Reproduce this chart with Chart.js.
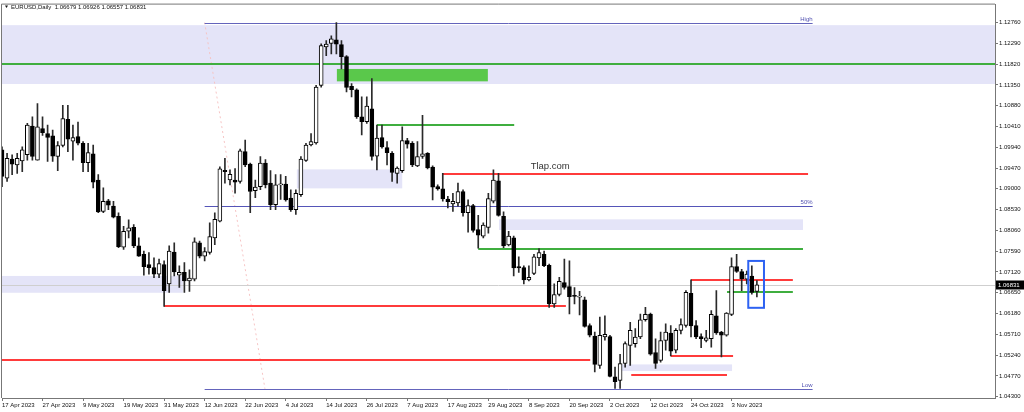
<!DOCTYPE html>
<html>
<head>
<meta charset="utf-8">
<script src="https://cdn.jsdelivr.net/npm/chart.js@4.4.0/dist/chart.umd.min.js"></script>
<style>html,body{margin:0;padding:0;background:#fff}canvas{display:block}</style>
</head>
<body>
<canvas id="chart" width="1024" height="412"></canvas>
<script>
const dateLabels = ["17 Apr 2023", "27 Apr 2023", "9 May 2023", "19 May 2023", "31 May 2023", "12 Jun 2023",
  "22 Jun 2023", "4 Jul 2023", "14 Jul 2023", "26 Jul 2023", "7 Aug 2023", "17 Aug 2023", "29 Aug 2023",
  "8 Sep 2023", "20 Sep 2023", "2 Oct 2023", "12 Oct 2023", "24 Oct 2023", "3 Nov 2023"];
const yTicks = [1.04300, 1.04770, 1.05240, 1.05710, 1.06180, 1.06650, 1.07120, 1.07590, 1.08060, 1.08530,
  1.09000, 1.09470, 1.09940, 1.10410, 1.10880, 1.11350, 1.11820, 1.12290, 1.12760];

// daily candles, 17 Apr 2023 .. 10 Nov 2023
const openPrices = [
  1.0988, 1.0924, 1.0967, 1.0954, 1.0963, 1.0977, 1.1042, 1.0965, 1.1036, 1.1025,
  1.1020, 1.0973, 1.0998, 1.1057, 1.1008, 1.1018, 1.1003, 1.0959, 1.0979, 1.0920,
  1.0849, 1.0873, 1.0861, 1.0838, 1.0768, 1.0804, 1.0813, 1.0771, 1.0752, 1.0729,
  1.0722, 1.0707, 1.0729, 1.0685, 1.0757, 1.0705, 1.0711, 1.0692, 1.0696, 1.0778,
  1.0748, 1.0756, 1.0789, 1.0827, 1.0942, 1.0920, 1.0920, 1.0917, 1.0984, 1.0956,
  1.0896, 1.0905, 1.0958, 1.0913, 1.0864, 1.0909, 1.0911, 1.0879, 1.0853, 1.0887,
  1.0964, 1.0999, 1.1004, 1.1134, 1.1221, 1.1229, 1.1237, 1.1226, 1.1199, 1.1132,
  1.1124, 1.1063, 1.1052, 1.1081, 1.0974, 1.1016, 1.0993, 1.0980, 1.0935, 1.0941,
  1.1009, 1.1003, 1.0952, 1.0973, 1.0980, 1.0949, 1.0905, 1.0900, 1.0877, 1.0866,
  1.0868, 1.0894, 1.0846, 1.0862, 1.0808, 1.0793, 1.0813, 1.0872, 1.0918, 1.0838,
  1.0773, 1.0789, 1.0724, 1.0722, 1.0694, 1.0709, 1.0744, 1.0752, 1.0727, 1.0640,
  1.0661, 1.0688, 1.0679, 1.0658, 1.0655, 1.0649, 1.0591, 1.0567, 1.0501, 1.0565,
  1.0566, 1.0475, 1.0467, 1.0505, 1.0546, 1.0550, 1.0565, 1.0604, 1.0617, 1.0530,
  1.0512, 1.0557, 1.0574, 1.0535, 1.0580, 1.0591, 1.0664, 1.0591, 1.0566, 1.0557,
  1.0561, 1.0613, 1.0576, 1.0569, 1.0616, 1.0724, 1.0713, 1.0696, 1.0703, 1.06679];
const highPrices = [
  1.0995, 1.0980, 1.0977, 1.0980, 1.0995, 1.1048, 1.1063, 1.1093, 1.1063, 1.1044,
  1.1033, 1.1007, 1.1089, 1.1089, 1.1044, 1.1051, 1.1007, 1.1003, 1.0999, 1.0932,
  1.0902, 1.0876, 1.0872, 1.0846, 1.0815, 1.0830, 1.0819, 1.0789, 1.0759, 1.0756,
  1.0744, 1.0741, 1.0737, 1.0771, 1.0778, 1.0726, 1.0733, 1.0717, 1.0789, 1.0782,
  1.0767, 1.0823, 1.0846, 1.0950, 1.0969, 1.0943, 1.0946, 1.0990, 1.1010, 1.0958,
  1.0920, 1.0973, 1.0966, 1.0941, 1.0932, 1.0932, 1.0928, 1.0898, 1.0898, 1.0973,
  1.1003, 1.1025, 1.1134, 1.1228, 1.1235, 1.1246, 1.1276, 1.1235, 1.1201, 1.1138,
  1.1126, 1.1108, 1.1108, 1.1149, 1.1044, 1.1044, 1.1007, 1.0984, 1.0950, 1.1040,
  1.1014, 1.1007, 1.1007, 1.1066, 1.0982, 1.0952, 1.0909, 1.0935, 1.0883, 1.0890,
  1.0913, 1.0898, 1.0875, 1.0865, 1.0840, 1.0823, 1.0890, 1.0943, 1.0935, 1.0848,
  1.0804, 1.0793, 1.0746, 1.0726, 1.0726, 1.0752, 1.0765, 1.0759, 1.0730, 1.0685,
  1.0700, 1.0741, 1.0737, 1.0677, 1.0668, 1.0655, 1.0595, 1.0576, 1.0610, 1.0613,
  1.0569, 1.0497, 1.0526, 1.0554, 1.0598, 1.0584, 1.0617, 1.0632, 1.0619, 1.0561,
  1.0576, 1.0595, 1.0591, 1.0584, 1.0606, 1.0670, 1.0694, 1.0602, 1.0572, 1.0580,
  1.0625, 1.0670, 1.0578, 1.0620, 1.0744, 1.0752, 1.0718, 1.0714, 1.0726, 1.06926];
const lowPrices = [
  1.0905, 1.0917, 1.0932, 1.0935, 1.0939, 1.0965, 1.0965, 1.0965, 1.1021, 1.0962,
  1.0962, 1.0941, 1.0995, 1.0984, 1.0965, 1.0999, 1.0939, 1.0939, 1.0902, 1.0846,
  1.0846, 1.0853, 1.0834, 1.0767, 1.0763, 1.0789, 1.0767, 1.0747, 1.0705, 1.0707,
  1.0699, 1.0699, 1.0634, 1.0666, 1.0703, 1.0677, 1.0666, 1.0668, 1.0692, 1.0744,
  1.0737, 1.0752, 1.0774, 1.0825, 1.0913, 1.0909, 1.0890, 1.0913, 1.0950, 1.0846,
  1.0880, 1.0898, 1.0902, 1.0853, 1.0853, 1.0876, 1.0872, 1.0849, 1.0842, 1.0883,
  1.0962, 1.0997, 1.1001, 1.1130, 1.1201, 1.1205, 1.1205, 1.1171, 1.1119, 1.1108,
  1.1059, 1.1022, 1.1048, 1.0965, 1.0943, 1.0992, 1.0954, 1.0917, 1.0913, 1.0937,
  1.0992, 1.0950, 1.0950, 1.0969, 1.0945, 1.0875, 1.0897, 1.0872, 1.0857, 1.0849,
  1.0861, 1.0838, 1.0802, 1.0802, 1.0766, 1.0789, 1.0800, 1.0868, 1.0838, 1.0767,
  1.0771, 1.0703, 1.0711, 1.0685, 1.0692, 1.0706, 1.0726, 1.0724, 1.0632, 1.0632,
  1.0658, 1.0673, 1.0617, 1.0640, 1.0615, 1.0587, 1.0565, 1.0486, 1.0494, 1.0558,
  1.0475, 1.0449, 1.0449, 1.0497, 1.0501, 1.0542, 1.0561, 1.0601, 1.0524, 1.0494,
  1.0508, 1.0535, 1.0522, 1.0529, 1.0572, 1.0587, 1.0565, 1.0561, 1.0541, 1.0554,
  1.0542, 1.0571, 1.0520, 1.0567, 1.0613, 1.0711, 1.0670, 1.0685, 1.0662, 1.06557];
const closePrices = [
  1.0928, 1.0969, 1.0956, 1.0969, 1.0988, 1.1044, 1.0973, 1.1040, 1.1027, 1.1016,
  1.0974, 1.0998, 1.1059, 1.1012, 1.1016, 1.1003, 1.0959, 1.0982, 1.0915, 1.0848,
  1.0872, 1.0863, 1.0836, 1.0769, 1.0804, 1.0812, 1.0771, 1.0748, 1.0724, 1.0722,
  1.0707, 1.0731, 1.0670, 1.0759, 1.0712, 1.0711, 1.0692, 1.0698, 1.0780, 1.0748,
  1.0758, 1.0792, 1.0831, 1.0945, 1.0939, 1.0933, 1.0915, 1.0986, 1.0954, 1.0894,
  1.0904, 1.0958, 1.0909, 1.0864, 1.0909, 1.0911, 1.0875, 1.0853, 1.0890, 1.0967,
  1.0999, 1.1007, 1.1130, 1.1224, 1.1227, 1.1239, 1.1227, 1.1199, 1.1129, 1.1124,
  1.1063, 1.1052, 1.1087, 1.0973, 1.1015, 1.0995, 1.0982, 1.0937, 1.0947, 1.1009,
  1.1001, 1.0954, 1.0973, 1.0979, 1.0947, 1.0904, 1.0900, 1.0877, 1.0871, 1.0872,
  1.0894, 1.0846, 1.0862, 1.0806, 1.0795, 1.0818, 1.0878, 1.0920, 1.0840, 1.0771,
  1.0793, 1.0721, 1.0721, 1.0694, 1.0700, 1.0746, 1.0756, 1.0726, 1.0640, 1.0661,
  1.0691, 1.0677, 1.0656, 1.0657, 1.0657, 1.0589, 1.0569, 1.0503, 1.0569, 1.0571,
  1.0476, 1.0464, 1.0505, 1.0550, 1.0580, 1.0565, 1.0604, 1.0616, 1.0526, 1.0505,
  1.0557, 1.0576, 1.0533, 1.0580, 1.0593, 1.0666, 1.0590, 1.0565, 1.0561, 1.0563,
  1.0616, 1.0574, 1.0569, 1.0619, 1.0724, 1.0713, 1.0697, 1.0707, 1.0666, 1.06831];

// drawn objects: bar index range + price range
const zones = [
  {from: -2, to: 200, top: 1.1270, bottom: 1.1137, color: "#e4e4f8"},
  {from: -2, to: 35.7, top: 1.0703, bottom: 1.0665, color: "#e4e4f8"},
  {from: 58.2, to: 79.0, top: 1.0944, bottom: 1.0901, color: "#e4e4f8"},
  {from: 98.1, to: 158.1, top: 1.0831, bottom: 1.0807, color: "#e4e4f8"},
  {from: 122, to: 144.1, top: 1.0503, bottom: 1.0488, color: "#e4e4f8"},
  {from: 66.1, to: 95.9, top: 1.1171, bottom: 1.1143, color: "#5ac84b"}
];
const levels = [
  {from: -2, to: 200, price: 1.06831, color: "#cfcfcf", width: 1},
  {from: -2, to: 200, price: 1.1182, color: "#3fae3f", width: 2},
  {from: 40, to: 160, price: 1.1276, color: "#6464bc", width: 1},
  {from: 40, to: 160, price: 1.0862, color: "#5555b8", width: 1},
  {from: 40, to: 160, price: 1.0448, color: "#6464bc", width: 1},
  {from: 74, to: 101.1, price: 1.1045, color: "#3fae3f", width: 2},
  {from: 87, to: 159.1, price: 1.0934, color: "#ff3b3b", width: 2},
  {from: 94, to: 158.1, price: 1.0765, color: "#3fae3f", width: 2},
  {from: 32, to: 111.3, price: 1.0634, color: "#ff3b3b", width: 2},
  {from: -2, to: 116.1, price: 1.0512, color: "#ff3b3b", width: 2},
  {from: 136, to: 156.1, price: 1.0694, color: "#ff3b3b", width: 2},
  {from: 143.1, to: 156.1, price: 1.0667, color: "#3fae3f", width: 2},
  {from: 132, to: 144.3, price: 1.0522, color: "#ff3b3b", width: 2},
  {from: 124.2, to: 143.1, price: 1.0480, color: "#ff3b3b", width: 2}
];
const fibTags = [["High", 1.1276], ["50%", 1.0862], ["Low", 1.0448]];

const categories = Array.from({length: 197}, (_, i) => i);
const tickIdx = dateLabels.map((_, k) => k * 8);

const mtObjects = {
  id: "mtObjects",
  beforeDatasetsDraw(chart) {
    const {ctx, chartArea: a, scales: {x, y}} = chart;
    ctx.save();
    ctx.beginPath();
    ctx.rect(a.left, a.top, a.right - a.left, a.bottom - a.top);
    ctx.clip();
    zones.forEach(z => {
      const x0 = x.getPixelForValue(z.from), x1 = x.getPixelForValue(z.to);
      const y0 = y.getPixelForValue(z.top), y1 = y.getPixelForValue(z.bottom);
      ctx.fillStyle = z.color;
      ctx.fillRect(x0, y0, x1 - x0, y1 - y0);
    });
    // fibo trend line
    ctx.strokeStyle = "#f6c4c4";
    ctx.lineWidth = 1;
    ctx.setLineDash([2, 3]);
    ctx.beginPath();
    ctx.moveTo(x.getPixelForValue(40), y.getPixelForValue(1.1276));
    ctx.lineTo(x.getPixelForValue(51.9), y.getPixelForValue(1.0448));
    ctx.stroke();
    ctx.setLineDash([]);
    levels.forEach(l => {
      const py = Math.round(y.getPixelForValue(l.price)) + (l.width === 1 ? 0.5 : 0);
      ctx.strokeStyle = l.color;
      ctx.lineWidth = l.width;
      ctx.beginPath();
      ctx.moveTo(x.getPixelForValue(l.from), py);
      ctx.lineTo(x.getPixelForValue(l.to), py);
      ctx.stroke();
    });
    ctx.restore();
  },
  afterDraw(chart) {
    const {ctx, chartArea: a, scales: {x, y}} = chart;
    ctx.save();
    // frame
    ctx.strokeStyle = "#777";
    ctx.lineWidth = 1;
    ctx.beginPath();
    ctx.moveTo(a.left - 0.5, a.bottom);
    ctx.lineTo(a.left - 0.5, a.top - 0.5);
    ctx.lineTo(a.right, a.top - 0.5);
    ctx.stroke();
    // selection box
    ctx.strokeStyle = "#2d62f2";
    ctx.lineWidth = 2;
    const bx0 = x.getPixelForValue(147.3), bx1 = x.getPixelForValue(150.4);
    const by0 = y.getPixelForValue(1.0737), by1 = y.getPixelForValue(1.0631);
    ctx.strokeRect(bx0, by0, bx1 - bx0, by1 - by0);
    // fibo tags
    ctx.font = "6px 'Liberation Sans'";
    ctx.fillStyle = "#5050b0";
    ctx.textAlign = "right";
    ctx.textBaseline = "bottom";
    fibTags.forEach(([t, p]) => ctx.fillText(t, x.getPixelForValue(160), y.getPixelForValue(p) - 0.5));
    // watermark
    ctx.font = "9.5px 'Liberation Sans'";
    ctx.fillStyle = "#333";
    ctx.textAlign = "center";
    ctx.textBaseline = "middle";
    ctx.fillText("Tlap.com", x.getPixelForValue(108.2), y.getPixelForValue(1.0950));
    // title
    ctx.font = "6px 'Liberation Sans'";
    ctx.fillStyle = "#111";
    ctx.textAlign = "left";
    ctx.fillText("EURUSD,Daily  1.06679 1.06926 1.06557 1.06831", 11, 7);
    ctx.beginPath();
    ctx.moveTo(5, 5.5); ctx.lineTo(8, 5.5); ctx.lineTo(6.5, 8);
    ctx.closePath();
    ctx.fill();
    // current price tag
    const last = closePrices[closePrices.length - 1];
    const py = Math.round(y.getPixelForValue(last));
    ctx.fillStyle = "#000";
    ctx.fillRect(a.right + 1, py - 4.5, 28, 9);
    ctx.fillStyle = "#fff";
    ctx.fillText(last.toFixed(5), a.right + 3, py);
    ctx.restore();
  }
};

new Chart(document.getElementById("chart"), {
  type: "bar",
  data: {
    labels: categories,
    datasets: [
      {
        data: openPrices.map((o, i) => [o, closePrices[i]]),
        backgroundColor: (c) => closePrices[c.dataIndex] >= openPrices[c.dataIndex] ? "#ffffff" : "#000000",
        borderColor: "#000000",
        borderWidth: 1,
        borderSkipped: false,
        barThickness: 4,
        minBarLength: 1,
        grouped: false
      },
      {
        data: lowPrices.map((l, i) => [l, highPrices[i]]),
        backgroundColor: "#2a2a2a",
        borderWidth: 0,
        barThickness: 1,
        grouped: false
      }
    ]
  },
  options: {
    responsive: false,
    animation: false,
    devicePixelRatio: 1,
    layout: {padding: {left: 2, top: 2, right: 0, bottom: 0}},
    plugins: {legend: {display: false}, tooltip: {enabled: false}},
    scales: {
      x: {
        offset: false,
        grid: {offset: false, drawOnChartArea: false, tickLength: 3, color: "#777"},
        border: {color: "#777"},
        afterBuildTicks: (s) => { s.ticks = tickIdx.map(v => ({value: v})); },
        afterFit: (s) => { s.height = 14; },
        ticks: {
          autoSkip: false, maxRotation: 0, minRotation: 0, align: "start", padding: 1,
          color: "#111", font: {family: "Liberation Sans", size: 6},
          callback: (v) => dateLabels[v / 8]
        }
      },
      y: {
        position: "right",
        min: 1.04271,
        max: 1.13165,
        grid: {drawOnChartArea: false, tickLength: 3, color: "#777"},
        border: {color: "#777"},
        afterBuildTicks: (s) => { s.ticks = yTicks.map(v => ({value: v})); },
        afterFit: (s) => { s.width = 29; },
        ticks: {
          padding: 1, color: "#111", font: {family: "Liberation Sans", size: 6},
          callback: (v) => v.toFixed(5)
        }
      }
    }
  },
  plugins: [mtObjects]
});
</script>
</body>
</html>
